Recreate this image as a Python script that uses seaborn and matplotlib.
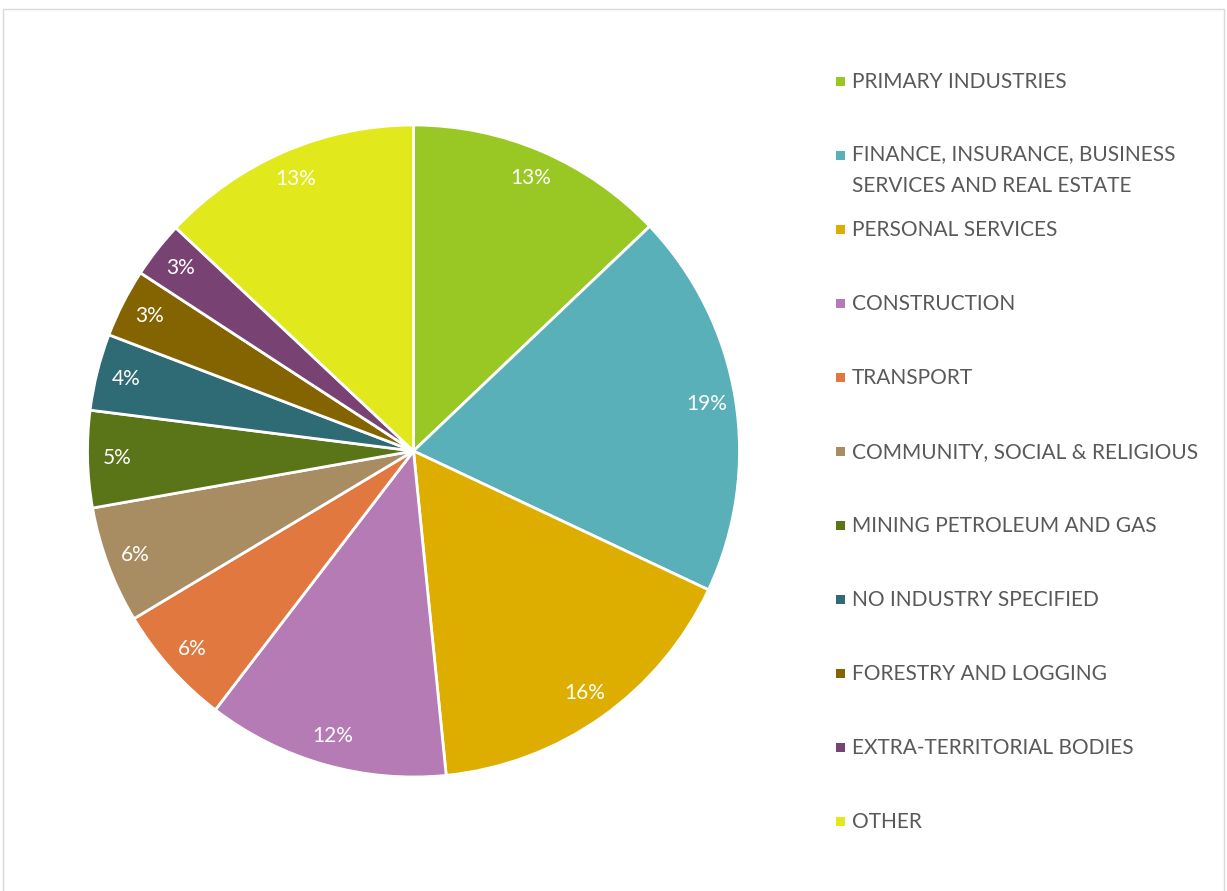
import matplotlib
matplotlib.use("Agg")
import matplotlib.pyplot as plt
import seaborn as sns
from matplotlib.patches import Rectangle

sns.set_theme(style="white")
plt.rcParams['font.family'] = ['Lato', 'DejaVu Sans']

categories = [
    "PRIMARY INDUSTRIES",
    "FINANCE, INSURANCE, BUSINESS\nSERVICES AND REAL ESTATE",
    "PERSONAL SERVICES",
    "CONSTRUCTION",
    "TRANSPORT",
    "COMMUNITY, SOCIAL & RELIGIOUS",
    "MINING PETROLEUM AND GAS",
    "NO INDUSTRY SPECIFIED",
    "FORESTRY AND LOGGING",
    "EXTRA-TERRITORIAL BODIES",
    "OTHER",
]
# shares (%); labels show rounded values
values = [12.9, 19.1, 16.4, 12.0, 6.0, 5.8, 4.8, 3.8, 3.4, 2.8, 13.0]
colors = ["#99C824", "#5AB0B9", "#DDAE00", "#B57BB4", "#E07840", "#A88C62",
          "#5A7418", "#2F6B74", "#836400", "#784273", "#E1E81B"]

W, H = 1227, 891
fig = plt.figure(figsize=(W / 100, H / 100), dpi=100)
fig.patch.set_facecolor("white")

# border
fig.add_artist(Rectangle((3 / W, -0.01), 1221 / W, (H - 9) / H + 0.01,
                         transform=fig.transFigure, fill=False,
                         edgecolor="#D9D9D9", lw=1.0))

cx, cy, r = 413.5, H - 451, 326
ax = fig.add_axes([(cx - r) / W, (cy - r) / H, 2 * r / W, 2 * r / H])
wedges, texts, autotexts = ax.pie(
    values, colors=colors, startangle=90, counterclock=False,
    autopct=lambda p: f"{p:.0f}%", pctdistance=0.91,
    wedgeprops=dict(edgecolor="white", linewidth=2.0),
    textprops=dict(color="white", fontsize=15))
ax.set_xlim(-1, 1)
ax.set_ylim(-1, 1)
ax.set_aspect("equal")
ax.axis("off")

# legend (manual, Excel-like spacing)
y0, step = 81, 74
for i, (lab, col) in enumerate(zip(categories, colors)):
    y = H - (y0 + i * step)
    fig.add_artist(Rectangle((836 / W, (y - 4.5) / H), 9 / W, 9 / H,
                             transform=fig.transFigure, facecolor=col,
                             edgecolor="none"))
    if "\n" in lab:
        fig.text(852 / W, (y + 11) / H, lab, ha="left", va="top",
                 fontsize=15, color="#595959", linespacing=1.75,
                 transform=fig.transFigure)
    else:
        fig.text(852 / W, (y - 1.5) / H, lab, ha="left", va="center",
                 fontsize=15, color="#595959", transform=fig.transFigure)

fig.savefig("out.png", dpi=100, facecolor="white")
